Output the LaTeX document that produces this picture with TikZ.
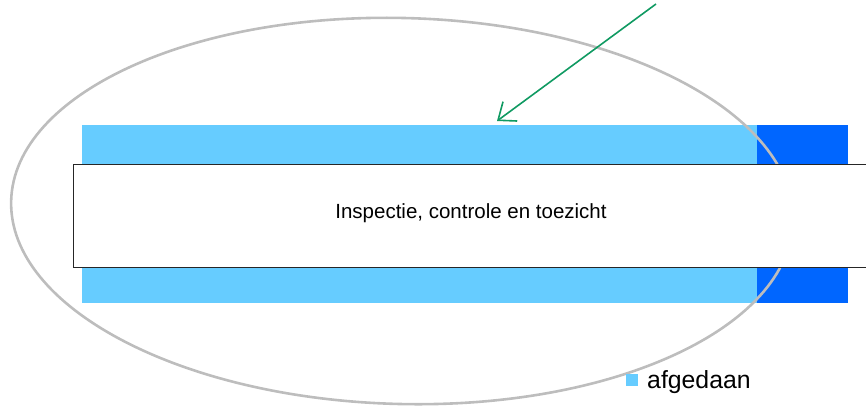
\documentclass[tikz,border=0pt]{standalone}
\usepackage{fontspec}
\setmainfont{Liberation Sans}
\usetikzlibrary{arrows.meta}
\definecolor{lightbar}{HTML}{66CCFF}
\definecolor{darkbar}{HTML}{0066FF}
\definecolor{ringgray}{HTML}{BDBDBD}
\definecolor{arrowgreen}{HTML}{109A62}
\begin{document}
\begin{tikzpicture}[x=1pt,y=-1pt,
  lightseg/.style={fill=lightbar,draw=none},
  darkseg/.style={fill=darkbar,draw=none},
  ring/.style={draw=ringgray,line width=2.6pt},
  labelbox/.style={draw=black!85,line width=0.9pt,fill=white},
  pointer/.style={draw=arrowgreen,line width=1.6pt,-{Straight Barb[length=15pt,width=24pt,line width=1.6pt]}}
]
\useasboundingbox (0,0) rectangle (866,407);
% bars
\fill[lightseg] (82,125) rectangle (757,164);
\fill[darkseg] (757,125) rectangle (848,164);
\fill[lightseg] (82,266) rectangle (757,303);
\fill[darkseg] (757,266) rectangle (848,303);
% ellipse
\draw[ring] (402,211) ellipse [x radius=391pt, y radius=193pt, rotate=-1.5];
% label box
\node[labelbox, minimum width=793pt, minimum height=103pt, inner sep=0pt, anchor=north west] (box) at (72.5,164) {};
\node[font=\fontsize{20.5}{24}\selectfont] (lbl) at (471,213) {Inspectie, controle en toezicht};
% arrow
\coordinate (from) at (656,4);
\coordinate (to) at (497,121);
\draw[pointer] (from) -- (to);
% legend
\node[fill=lightbar, minimum size=12.5pt, inner sep=0pt] (legsq) at (632,380) {};
\node[font=\fontsize{24.8}{28}\selectfont, anchor=west, inner sep=0pt] (legtxt) at (647,382) {afgedaan};
\end{tikzpicture}
\end{document}
